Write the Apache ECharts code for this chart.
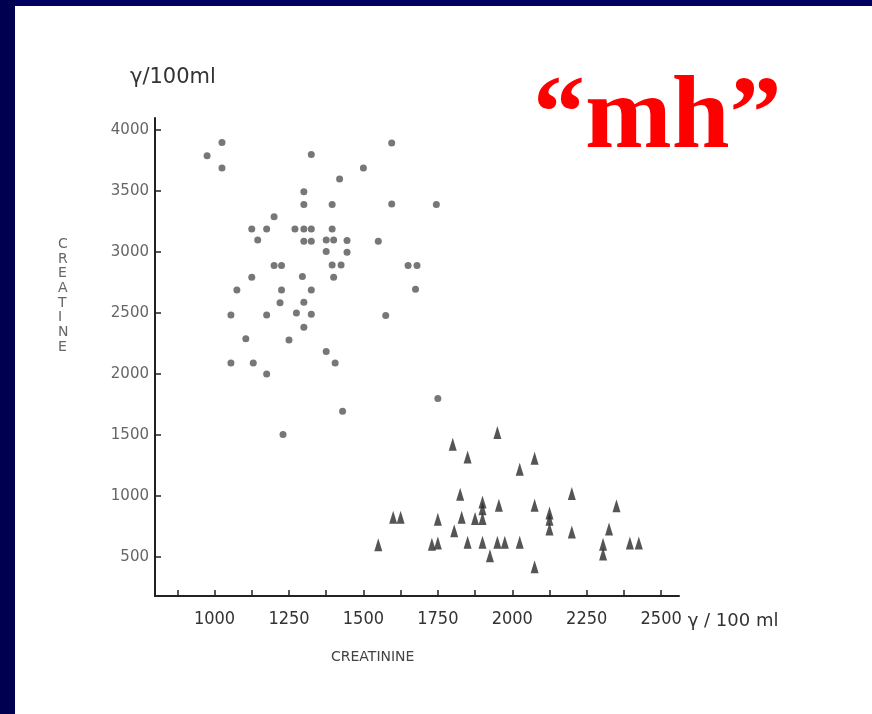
<!DOCTYPE html>
<html>
<head>
<meta charset="utf-8">
<script src="https://cdn.jsdelivr.net/npm/echarts@6/dist/echarts.min.js"></script>
<style>
  html, body { margin: 0; padding: 0; background: #fff; }
  #main { width: 872px; height: 714px; }
</style>
</head>
<body>
<div id="main"></div>
<script>
// creatinine (x) vs creatine (y), both γ/100 ml
var circlePoints = [
  [975, 3790], [1025, 3900], [1025, 3690], [1325, 3800], [1420, 3600],
  [1300, 3495], [1300, 3390], [1395, 3390], [1200, 3290], [1125, 3190],
  [1175, 3190], [1270, 3190], [1300, 3190], [1325, 3190], [1395, 3190],
  [1145, 3100], [1300, 3090], [1325, 3090], [1375, 3100], [1400, 3100],
  [1445, 3095], [1375, 3005], [1445, 3000], [1200, 2890], [1225, 2890],
  [1395, 2895], [1425, 2895], [1125, 2795], [1295, 2800], [1400, 2795],
  [1075, 2690], [1225, 2690], [1325, 2690], [1595, 3895], [1500, 3690],
  [1595, 3395], [1745, 3390], [1550, 3090], [1650, 2890], [1680, 2890],
  [1675, 2695], [1220, 2585], [1300, 2590], [1055, 2485], [1175, 2485],
  [1275, 2500], [1325, 2490], [1575, 2480], [1300, 2385], [1105, 2290],
  [1250, 2280], [1375, 2185], [1055, 2090], [1130, 2090], [1405, 2090],
  [1175, 2000], [1430, 1695], [1230, 1505], [1750, 1800]
];
var trianglePoints = [
  [1950, 1520], [1800, 1425], [1850, 1320], [2025, 1220], [1825, 1015],
  [1900, 950], [1900, 895], [1955, 925], [1600, 825], [1625, 825],
  [1750, 810], [1830, 825], [1875, 815], [1900, 815], [1805, 715],
  [1550, 600], [1730, 605], [1750, 615], [1850, 620], [1900, 620],
  [1950, 620], [1975, 620], [2025, 620], [1925, 510], [2075, 1310],
  [2200, 1020], [2075, 925], [2350, 920], [2125, 860], [2125, 810],
  [2125, 730], [2325, 730], [2200, 705], [2305, 605], [2305, 525],
  [2395, 615], [2425, 615], [2075, 420]
];
var xTicks = [875, 1000, 1125, 1250, 1375, 1500, 1625, 1750, 1875, 2000, 2125, 2250, 2375, 2500];
var xLabels = [1000, 1250, 1500, 1750, 2000, 2250, 2500];
var yTicks = [500, 1000, 1500, 2000, 2500, 3000, 3500, 4000];

var chart = echarts.init(document.getElementById('main'));

var axisLine = { lineStyle: { color: '#222', width: 2 } };
var plain = function (v) { return String(v); };

chart.setOption({
  animation: false,
  backgroundColor: '#fff',
  grid: { left: 155, right: 193, top: 118, bottom: 118, outerBoundsMode: 'none' },
  xAxis: {
    type: 'value',
    min: 800,
    max: 2560,
    name: 'γ / 100 ml',
    nameLocation: 'end',
    nameGap: 8,
    nameTextStyle: {
      fontFamily: 'DejaVu Sans', fontSize: 18, color: '#333',
      align: 'left', verticalAlign: 'top', padding: [16, 0, 0, 0]
    },
    axisLine: axisLine,
    axisTick: { inside: true, length: 6, customValues: xTicks, lineStyle: { color: '#222', width: 1.5 } },
    axisLabel: {
      customValues: xLabels, margin: 14, formatter: plain,
      fontFamily: '"DejaVu Sans Condensed", "Liberation Sans Narrow", "Roboto Condensed", "Liberation Sans", sans-serif',
      fontSize: 18, color: '#333'
    },
    splitLine: { show: false }
  },
  yAxis: {
    type: 'value',
    min: 180,
    max: 4100,
    name: 'γ/100ml',
    nameLocation: 'end',
    nameGap: 30,
    nameTextStyle: {
      fontFamily: 'DejaVu Sans', fontSize: 21, color: '#333',
      align: 'left', padding: [0, 0, 0, -25]
    },
    axisLine: axisLine,
    axisTick: { inside: true, length: 6, customValues: yTicks, lineStyle: { color: '#222', width: 1.5 } },
    axisLabel: {
      customValues: yTicks, margin: 6, formatter: plain,
      fontFamily: 'DejaVu Sans', fontSize: 15, color: '#666'
    },
    splitLine: { show: false }
  },
  graphic: [
    { type: 'rect', shape: { x: 0, y: 0, width: 872, height: 6 }, style: { fill: '#00005e' } },
    { type: 'rect', shape: { x: 0, y: 0, width: 15, height: 714 }, style: { fill: '#000050' } },
    {
      type: 'text', left: 533, top: 68,
      style: { text: '“mh”', font: 'bold 104px "Liberation Serif"', fill: '#ff0000' }
    },
    {
      type: 'text', left: 58, top: 237,
      style: {
        text: 'C\nR\nE\nA\nT\nI\nN\nE', font: '14px "DejaVu Sans"', fill: '#666',
        lineHeight: 14.7, align: 'center'
      }
    },
    {
      type: 'text', left: 331, top: 650,
      style: { text: 'CREATININE', font: '14px "DejaVu Sans"', fill: '#444' }
    }
  ],
  series: [
    {
      type: 'scatter',
      symbol: 'circle',
      symbolSize: 7,
      itemStyle: { color: '#555' },
      data: circlePoints
    },
    {
      type: 'scatter',
      symbol: 'triangle',
      symbolSize: [8, 13],
      itemStyle: { color: '#2b2b2b' },
      data: trianglePoints
    }
  ]
});
</script>
</body>
</html>
